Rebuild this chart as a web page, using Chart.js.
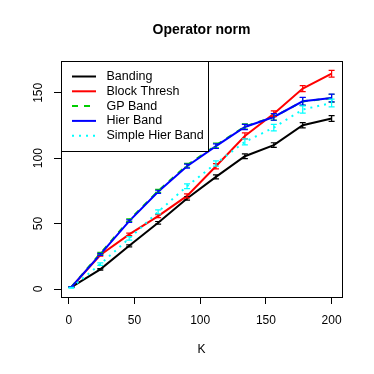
<!DOCTYPE html>
<html>
<head>
<meta charset="utf-8">
<script src="https://cdn.jsdelivr.net/npm/chart.js@4"></script>
<style>
  html, body { margin: 0; padding: 0; background: #fff; }
  #wrap { width: 374px; height: 374px; }
</style>
</head>
<body>
<div id="wrap"><canvas id="chart_norm" width="374" height="374"></canvas></div>
<script>
// values
var K = [2, 24, 46, 68, 90, 112, 134, 156, 178, 200];

var banding      = [1.5, 15.0, 33.0, 50.6, 69.2, 85.7, 101.5, 110.0, 125.2, 130.3];
var blockThresh  = [1.5, 26.0, 41.8, 55.7, 71.2, 93.9, 117.0, 134.0, 153.2, 164.6];
var gpBand       = [1.6, 27.2, 52.6, 75.0, 94.6, 109.8, 124.2, 131.6, 143.4, 145.9];
var hierBand     = [1.5, 26.5, 51.9, 74.3, 93.9, 109.2, 123.9, 131.5, 143.5, 146.0];
var simpleHier   = [1.0, 19.0, 38.7, 59.0, 78.6, 96.0, 112.5, 123.4, 137.2, 142.2];

// half widths of the error bars
var bandingErr   = [0.3, 0.6, 0.8, 1.0, 1.2, 1.5, 1.8, 1.8, 2.0, 2.2];
var blockErr     = [0.3, 0.8, 1.0, 1.2, 1.5, 2.0, 2.3, 2.2, 2.3, 2.6];
var gpErr        = [0.3, 0.8, 1.0, 1.2, 1.5, 1.8, 2.0, 2.5, 3.0, 3.0];
var hierErr      = [0.3, 0.8, 1.0, 1.2, 1.5, 1.8, 2.0, 2.5, 3.0, 3.0];
var simpleErr    = [0.3, 1.0, 1.3, 1.5, 1.8, 2.0, 2.3, 2.5, 2.8, 3.0];

var seriesNames = ["Banding", "Block Thresh", "GP Band", "Hier Band", "Simple Hier Band"];
var xTicks = [0, 50, 100, 150, 200];
var yTicks = [0, 50, 100, 150];

var FONT = "'Liberation Sans', Arial, Helvetica, sans-serif";

function pts(vals){
    return K.map(function(k, i){ return {x: k, y: vals[i]}; });
}

var datasets = [
    {label: seriesNames[0], data: pts(banding),     err: bandingErr, borderColor: "#000000", borderDash: [],     order: 5},
    {label: seriesNames[1], data: pts(blockThresh), err: blockErr,   borderColor: "#ff0000", borderDash: [],     order: 4},
    {label: seriesNames[2], data: pts(gpBand),      err: gpErr,      borderColor: "#00cd00", borderDash: [6, 6], order: 3},
    {label: seriesNames[3], data: pts(hierBand),    err: hierErr,    borderColor: "#0000ff", borderDash: [],     order: 2},
    {label: seriesNames[4], data: pts(simpleHier),  err: simpleErr,  borderColor: "#00ffff", borderDash: [2, 5], order: 1}
];
datasets.forEach(function(d){
    d.borderWidth = 2;
    d.pointRadius = 0;
    d.fill = false;
    d.tension = 0;
});

// error bars, box, title, rotated y labels and legend (R style)
var rStyle = {
    id: "rStyle",
    afterDatasetsDraw: function(chart){
        var ctx = chart.ctx, xs = chart.scales.x, ys = chart.scales.y;
        ctx.save();
        chart.data.datasets.forEach(function(d){
            ctx.strokeStyle = d.borderColor;
            ctx.lineWidth = 1.2;
            ctx.setLineDash([]);
            d.data.forEach(function(p, i){
                var px = xs.getPixelForValue(p.x);
                var lo = ys.getPixelForValue(p.y - d.err[i]);
                var hi = ys.getPixelForValue(p.y + d.err[i]);
                ctx.beginPath();
                ctx.moveTo(px, lo); ctx.lineTo(px, hi);
                ctx.moveTo(px - 3, lo); ctx.lineTo(px + 3, lo);
                ctx.moveTo(px - 3, hi); ctx.lineTo(px + 3, hi);
                ctx.stroke();
            });
        });
        ctx.restore();
    },
    afterDraw: function(chart){
        var ctx = chart.ctx, a = chart.chartArea, ys = chart.scales.y;
        ctx.save();
        // box
        ctx.strokeStyle = "#000";
        ctx.lineWidth = 1;
        ctx.strokeRect(Math.round(a.left) + 0.5, Math.round(a.top) + 0.5,
                       Math.round(a.right - a.left), Math.round(a.bottom - a.top));
        // title
        ctx.fillStyle = "#000";
        ctx.font = "bold 14px " + FONT;
        ctx.textAlign = "center";
        ctx.textBaseline = "middle";
        ctx.fillText("Operator norm", (a.left + a.right) / 2, 30);
        // x label
        ctx.font = "12px " + FONT;
        ctx.fillText("K", (a.left + a.right) / 2, 350);
        // rotated y tick labels
        yTicks.forEach(function(v){
            var py = ys.getPixelForValue(v);
            ctx.save();
            ctx.translate(39, py);
            ctx.rotate(-Math.PI / 2);
            ctx.fillText(String(v), 0, 0);
            ctx.restore();
        });
        // legend
        var lx = Math.round(a.left) + 0.5, ly = Math.round(a.top) + 0.5;
        ctx.fillStyle = "#fff";
        ctx.fillRect(lx, ly, 147, 90);
        ctx.strokeStyle = "#000";
        ctx.strokeRect(lx, ly, 147, 90);
        ctx.textAlign = "left";
        ctx.font = "12.5px " + FONT;
        chart.data.datasets.forEach(function(d, i){
            var y = 76.5 + i * 14.8;
            ctx.strokeStyle = d.borderColor;
            ctx.lineWidth = 2;
            ctx.setLineDash(d.borderDash);
            ctx.beginPath();
            ctx.moveTo(72, y); ctx.lineTo(96, y);
            ctx.stroke();
            ctx.fillStyle = "#000";
            ctx.fillText(d.label, 106.5, y);
        });
        ctx.restore();
    }
};

var ctxNorm = document.getElementById("chart_norm").getContext("2d");
var chartNorm = new Chart(ctxNorm, {
    type: "line",
    data: {datasets: datasets},
    options: {
        responsive: false,
        animation: false,
        layout: {padding: {left: 0, right: 32, top: 61, bottom: 0}},
        plugins: {legend: {display: false}, tooltip: {enabled: false}, title: {display: false}},
        scales: {
            x: {
                type: "linear",
                min: -5.9, max: 207.9,
                afterFit: function(s){ s.height = 77; },
                afterBuildTicks: function(s){ s.ticks = xTicks.map(function(v){ return {value: v}; }); },
                border: {display: false},
                grid: {drawOnChartArea: false, drawTicks: true, tickLength: 7, color: "#000", lineWidth: 1},
                ticks: {color: "#000", font: {family: FONT, size: 12}, padding: 9, maxRotation: 0, autoSkip: false}
            },
            y: {
                type: "linear",
                min: -6.1, max: 174.3,
                afterFit: function(s){ s.width = 61; },
                afterBuildTicks: function(s){ s.ticks = yTicks.map(function(v){ return {value: v}; }); },
                border: {display: false},
                grid: {drawOnChartArea: false, drawTicks: true, tickLength: 7, color: "#000", lineWidth: 1},
                ticks: {display: false}
            }
        }
    },
    plugins: [rStyle]
});
</script>
</body>
</html>
